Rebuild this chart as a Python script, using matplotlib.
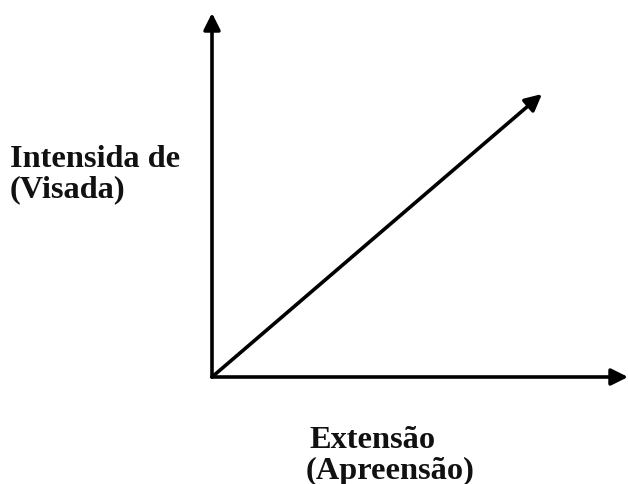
import matplotlib.pyplot as plt

# diagram geometry in pixel units of the 628x485 canvas
origin = (212, 378)
y_axis_end = (212, 14)
x_axis_end = (628, 378)
diag_end = (542, 95)

y_label = ["Intensida de", "(Visada)"]
y_label_pos = [(10, 167), (10, 197)]
x_label = ["Extensão", "(Apreensão)"]
x_label_pos = [(309, 448), (306, 479)]

fig = plt.figure(figsize=(6.28, 4.85), dpi=100)
ax = fig.add_axes([0, 0, 1, 1])
ax.set_xlim(0, 628)
ax.set_ylim(485, 0)
ax.axis("off")

arrow = dict(arrowstyle="-|>,head_length=1.0,head_width=0.5",
             color="black", lw=2.6, shrinkA=0, shrinkB=0)
for end in [y_axis_end, x_axis_end, diag_end]:
    ax.annotate("", xy=end, xytext=origin, arrowprops=arrow)

font = dict(family="Liberation Serif", weight="bold", fontsize=23.3,
            ha="left", va="baseline", color="#111111")
for txt, (x, y) in zip(y_label + x_label, y_label_pos + x_label_pos):
    ax.text(x, y, txt, **font)

fig.savefig("out.png", dpi=100)
